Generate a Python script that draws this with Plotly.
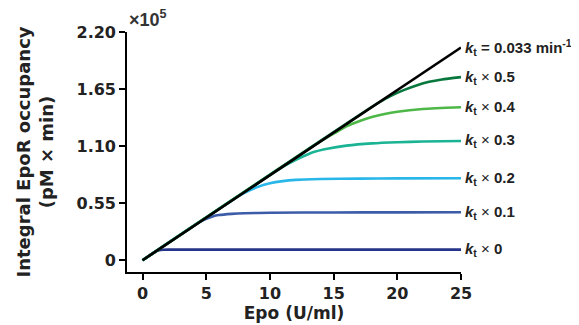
import plotly.graph_objects as go

# values in units of 1e5 pM x min
epo_full = [0, 25]
occ_full = [0, 2.05]

epo_k0 = [0, 1.0, 1.3, 1.6, 2, 5, 10, 15, 20, 25]
occ_k0 = [0, 0.082, 0.097, 0.102, 0.103, 0.103, 0.103, 0.103, 0.103, 0.103]

epo_k01 = [0, 4.5, 5, 5.5, 6, 7, 8, 10, 15, 20, 25]
occ_k01 = [0, 0.369, 0.40, 0.423, 0.436, 0.447, 0.453, 0.458, 0.461, 0.462, 0.463]

epo_k02 = [0, 7.5, 8, 8.5, 9, 10, 11, 12, 14, 17, 20, 25]
occ_k02 = [0, 0.615, 0.65, 0.68, 0.705, 0.742, 0.763, 0.775, 0.783, 0.787, 0.789, 0.79]

epo_k03 = [0, 10.5, 11.5, 12.5, 13.5, 14.5, 16, 18, 20, 22, 25]
occ_k03 = [0, 0.861, 0.935, 0.995, 1.045, 1.075, 1.105, 1.127, 1.138, 1.144, 1.15]

epo_k04 = [0, 14, 15, 16, 17, 18, 19, 20, 22, 25]
occ_k04 = [0, 1.148, 1.22, 1.29, 1.34, 1.38, 1.41, 1.432, 1.458, 1.475]

epo_k05 = [0, 18.5, 19.5, 20.5, 21.5, 22.5, 23.5, 25]
occ_k05 = [0, 1.517, 1.585, 1.64, 1.685, 1.72, 1.743, 1.765]

labels = ["<b><i>k</i><sub>t</sub> = 0.033 min<sup>-1</sup></b>",
          "<b><i>k</i><sub>t</sub></b> × <b>0.5</b>",
          "<b><i>k</i><sub>t</sub></b> × <b>0.4</b>",
          "<b><i>k</i><sub>t</sub></b> × <b>0.3</b>",
          "<b><i>k</i><sub>t</sub></b> × <b>0.2</b>",
          "<b><i>k</i><sub>t</sub></b> × <b>0.1</b>",
          "<b><i>k</i><sub>t</sub></b> × <b>0</b>"]

x_ticks = [0, 5, 10, 15, 20, 25]
y_ticks = [0, 0.55, 1.10, 1.65, 2.20]
y_ticktext = ["0", "0.55", "1.10", "1.65", "2.20"]

series = [
    (epo_k0, occ_k0, "#27348b"),
    (epo_k01, occ_k01, "#3c5ca8"),
    (epo_k02, occ_k02, "#29b6e8"),
    (epo_k03, occ_k03, "#1ab394"),
    (epo_k04, occ_k04, "#4db848"),
    (epo_k05, occ_k05, "#08773d"),
    (epo_full, occ_full, "#000000"),
]

FONT = "DejaVu Sans"
LFONT = "Liberation Sans"
fig = go.Figure()
for xs, ys, col in series:
    fig.add_trace(go.Scatter(x=xs, y=ys, mode="lines",
                             line=dict(color=col, width=2.6, shape="spline", smoothing=0.6),
                             showlegend=False, hoverinfo="skip"))

ends = [occ_full[-1], occ_k05[-1], occ_k04[-1], occ_k03[-1], occ_k02[-1], occ_k01[-1], occ_k0[-1]]
for lab, yv in zip(labels, ends):
    fig.add_annotation(x=25, y=yv, xref="x", yref="y", text=lab, showarrow=False,
                       xanchor="left", yanchor="middle", xshift=2,
                       font=dict(family=LFONT, size=15, color="#222222"))

fig.add_annotation(x=0, y=1, xref="paper", yref="paper", text="<b>×10<sup>5</sup></b>",
                   showarrow=False, xanchor="left", yanchor="bottom", xshift=0, yshift=0,
                   font=dict(family=LFONT, size=18, color="#333333"))

# page body has an 8px margin; figure sized so it fills the 579x325 window
fig.update_layout(
    width=571, height=317,
    margin=dict(l=119, r=118, t=24, b=53),
    plot_bgcolor="white", paper_bgcolor="white",
    font=dict(family=FONT, color="#222222"),
)
fig.update_xaxes(range=[-1.22, 25], tickvals=x_ticks, ticktext=[f"<b>{v}</b>" for v in x_ticks],
                 automargin=False,
                 showgrid=False, zeroline=False, showline=True, linecolor="black", linewidth=1.6,
                 ticks="outside", ticklen=6, tickwidth=1.6, tickcolor="black",
                 tickfont=dict(family=FONT, size=16, color="#222222"),
                 title=dict(text="<b>Epo (U/ml)</b>", font=dict(family=FONT, size=17, color="#222222"), standoff=2))
fig.update_yaxes(range=[-0.113, 2.2], tickvals=y_ticks, ticktext=[f"<b>{t}</b>" for t in y_ticktext],
                 automargin=False,
                 showgrid=False, zeroline=False, showline=True, linecolor="black", linewidth=1.6,
                 ticks="outside", ticklen=6, tickwidth=1.6, tickcolor="black",
                 tickfont=dict(family=FONT, size=16, color="#222222"),
                 title=dict(text="<b>Integral EpoR occupancy<br>(pM × min)</b>",
                            font=dict(family=FONT, size=18, color="#222222"), standoff=18))

fig.write_html("out.html")
